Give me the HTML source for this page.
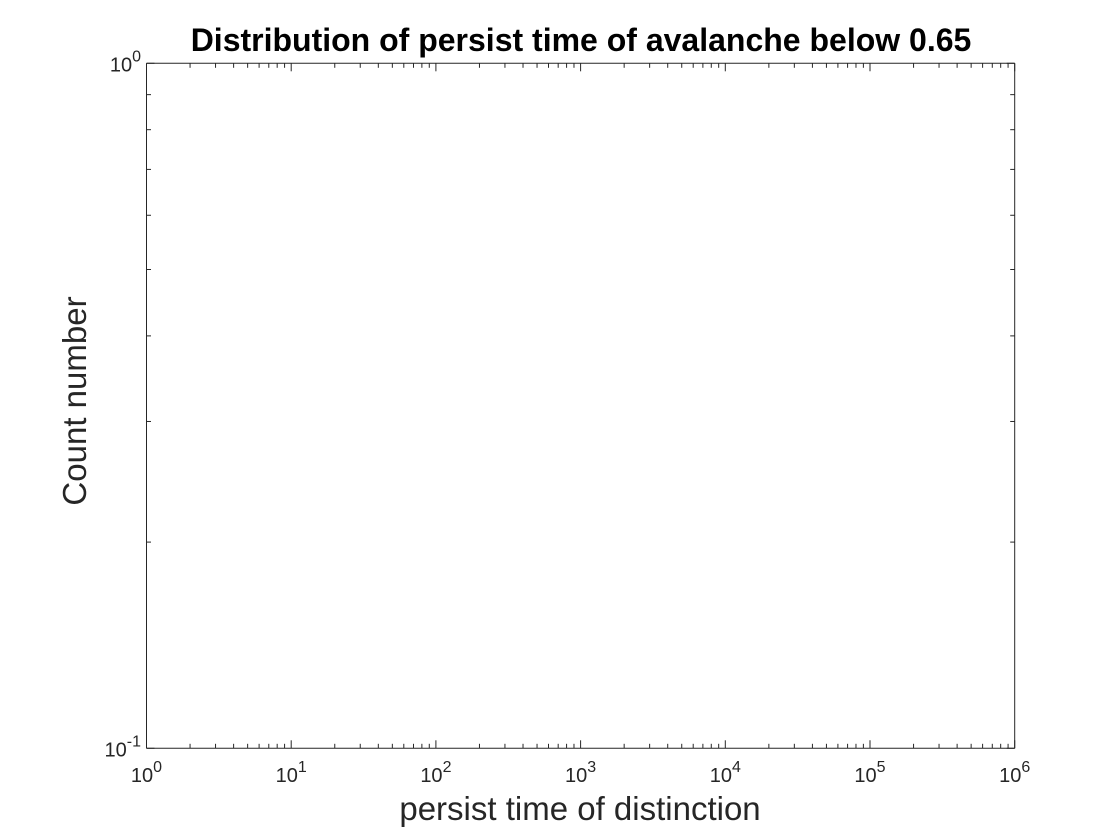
<!DOCTYPE html>
<html><head><meta charset="utf-8"><style>
html,body{margin:0;padding:0;background:#fff;}
svg{display:block;font-family:"Liberation Sans",Arial,sans-serif;}
</style></head>
<body>
<svg id="chart" width="1120" height="840" viewBox="0 0 1120 840" xmlns="http://www.w3.org/2000/svg">
<rect width="1120" height="840" fill="#fff"/>
<text x="581" y="51" text-anchor="middle" font-size="32" font-weight="bold" fill="#000">Distribution of persist time of avalanche below 0.65</text>
<text x="580" y="820" text-anchor="middle" font-size="33" fill="#262626">persist time of distinction</text>
<text transform="translate(86,401) rotate(-90)" text-anchor="middle" font-size="33" fill="#262626">Count number</text>
<g id="axes"></g>
</svg>
<script>
const xExponents = [0, 1, 2, 3, 4, 5, 6];
const yExponents = [-1, 0];
const seriesX = [];
const seriesY = [];

const L = 146.5, R = 1014.7, T = 63.3, B = 748.3;
const NS = "http://www.w3.org/2000/svg";
const g = document.getElementById('axes');
const xMin = 0, xMax = 6, yMin = -1, yMax = 0;
function xs(v){ return L + (Math.log10(v) - xMin) / (xMax - xMin) * (R - L); }
function ys(v){ return B - (Math.log10(v) - yMin) / (yMax - yMin) * (B - T); }
function line(x1,y1,x2,y2,name){
  const l = document.createElementNS(NS,'line');
  l.setAttribute('x1',x1);l.setAttribute('y1',y1);l.setAttribute('x2',x2);l.setAttribute('y2',y2);
  l.setAttribute('stroke','#262626');l.setAttribute('stroke-width','1');
  
  
  g.appendChild(l);
}
function label(x,y,exp,name,anchor){
  const t = document.createElementNS(NS,'text');
  t.setAttribute('x',x);t.setAttribute('y',y);t.setAttribute('text-anchor',anchor);
  t.setAttribute('font-size','20');t.setAttribute('fill','#262626');
  
  
  t.textContent = '10';
  const s = document.createElementNS(NS,'tspan');
  s.setAttribute('dy','-10');s.setAttribute('font-size','16');
  s.textContent = String(exp);
  t.appendChild(s);
  g.appendChild(t);
}
line(L,T,R,T,'axes-top-border');
line(L,B,R,B,'x-axis-line');
line(L,T,L,B,'y-axis-line');
line(R,T,R,B,'axes-right-border');
xExponents.forEach(e=>{
  const v = Math.pow(10,e), x = xs(v);
  line(x,B,x,B-8,'x-major-tick');
  line(x,T,x,T+8,'x-major-tick-top');
  label(x,782,e,'x-tick-label','middle');
  if (e < xMax) for (let k=2;k<10;k++){
    const mx = xs(k*v);
    line(mx,B,mx,B-4.5,'x-minor-tick');
    line(mx,T,mx,T+4.5,'x-minor-tick-top');
  }
});
yExponents.forEach(e=>{
  const v = Math.pow(10,e), y = ys(v);
  line(L,y,L+8,y,'y-major-tick');
  line(R,y,R-8,y,'y-major-tick-right');
  label(141,y+8,e,'y-tick-label','end');
  if (e < yMax) for (let k=2;k<10;k++){
    const my = ys(k*v);
    line(L,my,L+4.5,my,'y-minor-tick');
    line(R,my,R-4.5,my,'y-minor-tick-right');
  }
});
seriesX.forEach((xv,i)=>{
  const c = document.createElementNS(NS,'circle');
  c.setAttribute('cx',xs(xv));c.setAttribute('cy',ys(seriesY[i]));c.setAttribute('r',3);
  c.setAttribute('fill','#0072bd');
  
  
  g.appendChild(c);
});
</script>
</body></html>
